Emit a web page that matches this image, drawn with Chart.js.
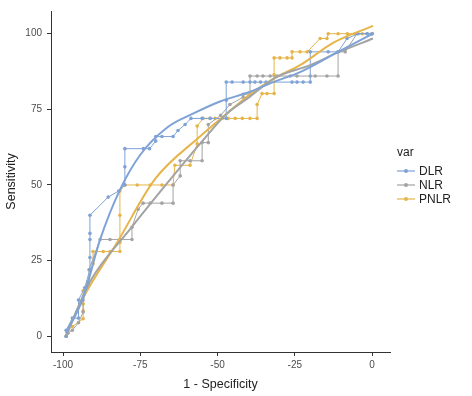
<!DOCTYPE html>
<html>
<head>
<meta charset="utf-8">
<script src="https://cdn.jsdelivr.net/npm/chart.js@4.4.1/dist/chart.umd.min.js"></script>
<style>
  html, body { margin: 0; padding: 0; background: #fff; }
  #wrap { position: relative; width: 472px; height: 396px; }
  #legend { position: absolute; left: 397px; top: 144px; font-family: "Liberation Sans", Arial, sans-serif; color: #222; font-size: 12px; }
  #legend .title { height: 16px; line-height: 16px; margin-bottom: 4px; }
  #legend .item { height: 14px; line-height: 14px; display: flex; align-items: center; }
  #legend canvas { margin-right: 4px; }
</style>
</head>
<body>
<div id="wrap">
  <canvas id="roc" width="472" height="396"></canvas>
  <div id="legend"><div class="title">var</div></div>
</div>
<script>
// series names and colours
const seriesNames = ['DLR', 'NLR', 'PNLR'];
const seriesColors = ['#7fa2d6', '#a3a3a3', '#e6b54a'];

// step curves: [1 - specificity, sensitivity]
const dlrSteps = [
  [-99, 0], [-99, 2], [-97, 6], [-95, 6], [-95, 12], [-93, 16], [-91.3, 22], [-91.3, 26],
  [-91.3, 32], [-91.3, 34], [-91.3, 40], [-85.4, 46], [-82, 48], [-80, 50], [-80, 56], [-80, 62],
  [-74, 62], [-72, 62], [-70, 64.5], [-70, 66], [-68, 66], [-64.4, 66], [-62.8, 68], [-60.5, 70],
  [-58.6, 72], [-55, 72], [-52.4, 72], [-47.2, 72], [-47.2, 78], [-47.2, 84], [-45.3, 84],
  [-41.7, 84], [-39.5, 84], [-37.9, 84], [-36.1, 84], [-34.3, 84], [-25.9, 84], [-24.3, 84],
  [-22.3, 84], [-20, 84], [-20, 94], [-14.2, 94], [-11, 94], [-8.1, 98.4], [-4.5, 100],
  [-1.6, 100], [0, 100]
];
const nlrSteps = [
  [-99, 0], [-98.4, 1], [-97, 2], [-95, 4.5], [-93.5, 8], [-93.5, 12], [-91.6, 17], [-91.6, 22],
  [-88, 32], [-84.8, 32], [-81.6, 32], [-77.7, 32], [-77.7, 36], [-75.7, 42], [-74.1, 44],
  [-71.8, 44], [-68, 44], [-64.4, 44], [-64.4, 50], [-62.1, 53], [-62.1, 58], [-58.9, 58],
  [-55, 58], [-55, 64], [-53, 64], [-53, 70], [-49, 73], [-46, 76.6], [-41.7, 79], [-41.7, 80],
  [-39.5, 80], [-39.5, 86], [-37.2, 86], [-35.3, 86], [-33, 86], [-30.7, 86], [-26.5, 86],
  [-24.3, 86], [-20, 86], [-18.4, 86], [-14.6, 86], [-11, 86], [-11, 94], [-8.7, 94],
  [-4.9, 100], [-1.6, 100], [0, 100]
];
const pnlrSteps = [
  [-99, 0], [-98.4, 2], [-97, 3.2], [-93.5, 5.8], [-93.5, 8.4], [-93.5, 10.7], [-93.5, 15],
  [-92, 18], [-90.3, 24], [-90.3, 28], [-87, 28], [-84.8, 28], [-81.6, 28], [-81.6, 31],
  [-81.6, 40], [-81.6, 48], [-80, 50], [-76, 50], [-71.8, 50], [-68, 50], [-64.4, 50],
  [-63.8, 56.5], [-58.9, 56.5], [-56.6, 63.6], [-56.6, 69.5], [-54.7, 72], [-52.4, 72],
  [-50.8, 72], [-48.5, 72], [-46.6, 72], [-44.3, 72], [-42, 72], [-39.5, 72], [-37.2, 72],
  [-37.2, 76.6], [-35.6, 80.2], [-34, 80.2], [-31.7, 80.2], [-31.7, 86.4], [-31.7, 92],
  [-29.8, 92], [-27.5, 92], [-25.9, 92], [-25.9, 94], [-23.3, 94], [-21, 94], [-16.8, 98.4],
  [-14.6, 98.4], [-14.2, 100], [-11, 100], [-8, 100], [-5.5, 100], [-3.2, 100], [0, 100]
];

// smoothed curves
const dlrSmooth = [
  [-99, 1], [-93.5, 12.7], [-88, 32], [-81.6, 48.4], [-75, 60], [-66.3, 69], [-58.3, 73.4],
  [-49.2, 77.6], [-39.5, 80.8], [-32, 84], [-23.3, 87.3], [-11, 94], [0.3, 100]
];
const nlrSmooth = [
  [-99, 0.3], [-91.3, 18], [-78.3, 35.4], [-66.3, 50.6], [-55.7, 63.6], [-47.2, 73.4],
  [-39.5, 79.2], [-31.4, 85.4], [-20, 89.6], [-11, 93.8], [0.3, 98.4]
];
const pnlrSmooth = [
  [-98.4, 2], [-93.5, 12.7], [-82.5, 31], [-70.2, 52], [-55.7, 66], [-47.2, 73.4],
  [-39.5, 80], [-31.4, 85.4], [-23.3, 89.6], [-12.6, 97], [0.3, 102.6]
];

// axis ticks
const xTicks = [-100, -75, -50, -25, 0];
const yTicks = [0, 25, 50, 75, 100];

const toPts = arr => arr.map(p => ({ x: p[0], y: p[1] }));
const stepSets = [dlrSteps, nlrSteps, pnlrSteps];
const smoothSets = [dlrSmooth, nlrSmooth, pnlrSmooth];

// legend key: short line with a dot
function legendKey(color) {
  const c = document.createElement('canvas');
  c.width = 18; c.height = 8;
  const g = c.getContext('2d');
  g.strokeStyle = color;
  g.lineWidth = 1.2;
  g.beginPath(); g.moveTo(0, 4); g.lineTo(18, 4); g.stroke();
  g.fillStyle = color;
  g.beginPath(); g.arc(9, 4, 2, 0, Math.PI * 2); g.fill();
  return c;
}

const legendEl = document.getElementById('legend');
seriesNames.forEach((name, i) => {
  const row = document.createElement('div');
  row.className = 'item';
  row.appendChild(legendKey(seriesColors[i]));
  row.appendChild(document.createTextNode(name));
  legendEl.appendChild(row);
});

const datasets = [];
// smooth curves first so they sit on top
smoothSets.forEach((s, i) => {
  datasets.push({
    label: seriesNames[i] + ' fit',
    data: toPts(s),
    showLine: true,
    borderColor: seriesColors[i],
    borderWidth: 2,
    pointRadius: 0,
    cubicInterpolationMode: 'monotone'
  });
});
stepSets.forEach((s, i) => {
  datasets.push({
    label: seriesNames[i],
    data: toPts(s),
    showLine: true,
    borderColor: seriesColors[i],
    backgroundColor: seriesColors[i],
    borderWidth: 1,
    pointRadius: 1.8,
    pointBorderWidth: 0,
    pointStyle: 'circle',
    tension: 0
  });
});

const font = '"Liberation Sans", Arial, sans-serif';
const axisColor = '#4d4d4d';

new Chart(document.getElementById('roc'), {
  type: 'scatter',
  data: { datasets: datasets },
  options: {
    responsive: false,
    animation: false,
    layout: { padding: { top: 5, right: 82, left: 0, bottom: 0 } },
    plugins: {
      tooltip: { enabled: false },
      legend: { display: false }
    },
    scales: {
      x: {
        type: 'linear',
        min: -103.9,
        max: 5.8,
        afterBuildTicks: scale => { scale.ticks = xTicks.map(v => ({ value: v })); },
        afterFit: scale => { scale.height = 44; },
        ticks: { color: axisColor, font: { family: font, size: 10 }, padding: 3 },
        grid: { display: true, drawOnChartArea: false, drawTicks: true, tickLength: 4, color: '#333' },
        border: { display: true, color: '#333', width: 1 },
        title: { display: true, text: '1 - Specificity', color: '#222', font: { family: font, size: 12.5 }, padding: { top: 2, bottom: 4 } }
      },
      y: {
        type: 'linear',
        min: -5.2,
        max: 107.5,
        afterBuildTicks: scale => { scale.ticks = yTicks.map(v => ({ value: v })); },
        afterFit: scale => { scale.width = 51; },
        ticks: { color: axisColor, font: { family: font, size: 10 }, padding: 5 },
        grid: { display: true, drawOnChartArea: false, drawTicks: true, tickLength: 4, color: '#333' },
        border: { display: true, color: '#333', width: 1 },
        title: { display: true, text: 'Sensitivity', color: '#222', font: { family: font, size: 12.5 }, padding: { top: 4, bottom: 2 } }
      }
    }
  }
});
</script>
</body>
</html>
